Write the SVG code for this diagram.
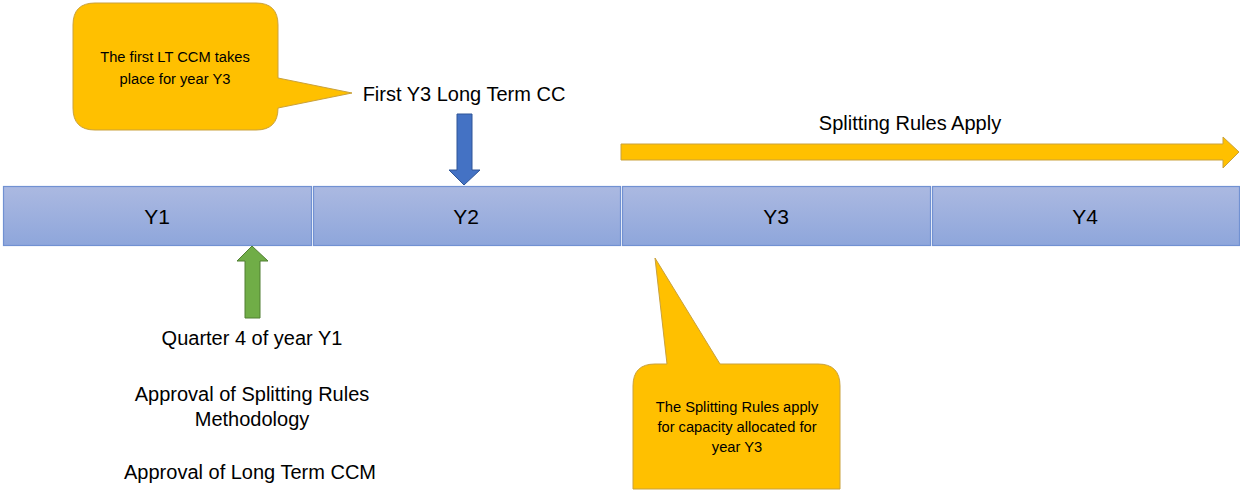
<svg xmlns="http://www.w3.org/2000/svg" width="1240" height="490" viewBox="0 0 1240 490">
<style>
text{font-family:"Liberation Sans",Arial,sans-serif;fill:#000}
.lbl{font-size:20px}
.yr{font-size:21px}
.small{font-size:14.7px}
.bar{fill:url(#g);stroke:#7191d2;stroke-width:1.2}
.call{fill:#ffc000;stroke:#c9a13c;stroke-width:1}
</style>
<defs>
<linearGradient id="g" x1="0" y1="0" x2="0" y2="1">
<stop offset="0" stop-color="#abb9e1"/>
<stop offset="1" stop-color="#8ea6db"/>
</linearGradient>
</defs>
<g id="timeline">
<g id="y1"><rect class="bar" x="3.5" y="186.5" width="308" height="59"/><text class="yr" x="157" y="224" text-anchor="middle">Y1</text></g>
<g id="y2"><rect class="bar" x="313.5" y="186.5" width="307" height="59"/><text class="yr" x="466" y="224" text-anchor="middle">Y2</text></g>
<g id="y3"><rect class="bar" x="622.5" y="186.5" width="308" height="59"/><text class="yr" x="776" y="224" text-anchor="middle">Y3</text></g>
<g id="y4"><rect class="bar" x="932.5" y="186.5" width="307" height="59"/><text class="yr" x="1085" y="224" text-anchor="middle">Y4</text></g>
</g>
<g id="connectors">
<path id="blue-arrow" d="M457,114 H472 V170 H480 L464,185 L449,170 H457 Z" fill="#4472c4" stroke="#2f5597" stroke-width="1"/>
<path id="green-arrow" d="M252,246 L268,261 H260 V318 H245 V261 H237 Z" fill="#70ad47" stroke="#507e32" stroke-width="1"/>
<path id="yellow-arrow" d="M621,144 H1223 V137 L1239,152 L1223,168 V160 H621 Z" fill="#ffc000" stroke="#c9a13c" stroke-width="1"/>
</g>
<g id="callout1">
<path class="call" d="M95,3 H256 Q278,3 278,25 V78 L352,93 L278,108 V108 Q278,130 256,130 H95 Q73,130 73,108 V25 Q73,3 95,3 Z"/>
<text class="small" x="175" y="62" text-anchor="middle">The first LT CCM takes</text>
<text class="small" x="175" y="84" text-anchor="middle">place for year Y3</text>
</g>
<g id="callout2">
<path class="call" d="M655,364 H667 L655,258 L720,364 H818 Q840,364 840,386 V489 H633 V386 Q633,364 655,364 Z"/>
<text class="small" x="737" y="412" text-anchor="middle">The Splitting Rules apply</text>
<text class="small" x="737" y="432" text-anchor="middle">for capacity allocated for</text>
<text class="small" x="737" y="452" text-anchor="middle">year Y3</text>
</g>
<g id="label-first"><text class="lbl" x="464" y="101" text-anchor="middle">First Y3 Long Term CC</text></g>
<g id="label-splitting"><text class="lbl" x="910" y="130" text-anchor="middle">Splitting Rules Apply</text></g>
<g id="label-approval">
<text class="lbl" x="252" y="345" text-anchor="middle">Quarter 4 of year Y1</text>
<text class="lbl" x="252" y="401" text-anchor="middle">Approval of Splitting Rules</text>
<text class="lbl" x="252" y="426" text-anchor="middle">Methodology</text>
<text class="lbl" x="250" y="479" text-anchor="middle">Approval of Long Term CCM</text>
</g>
</svg>
